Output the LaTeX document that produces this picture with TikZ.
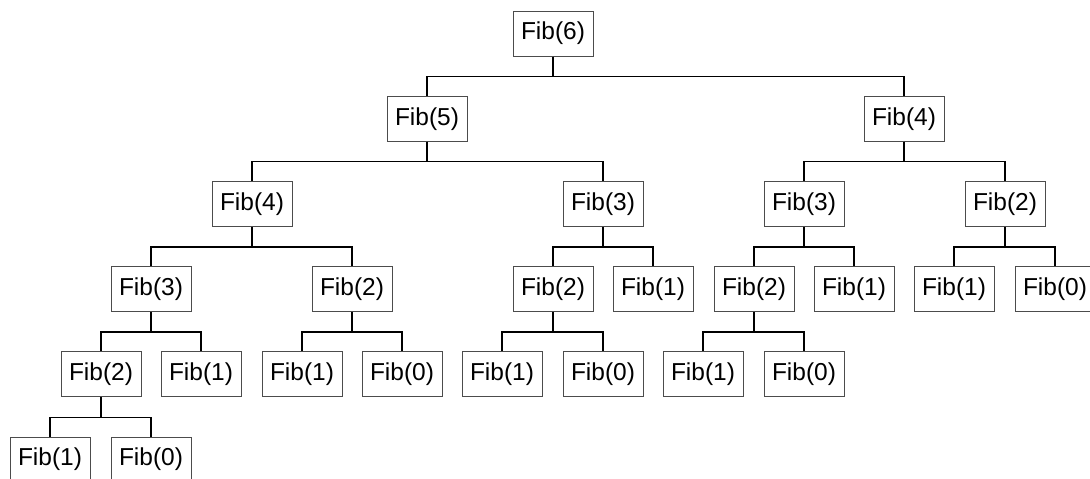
\documentclass[tikz,border=0pt]{standalone}
\usepackage{fontspec}
\setmainfont{Liberation Sans}
\begin{document}
\begin{tikzpicture}[x=1pt,y=-1pt,
  fib/.style={draw=black!70, line width=1pt, minimum width=80pt, minimum height=45pt, inner sep=0pt, font=\fontsize{24.5}{28}\selectfont},
  conn/.style={line width=1.5pt, black}]
\useasboundingbox (0,0) rectangle (1090,479);
% level 0
\node[fib] (n6) at (553,33.5) {Fib(6)};
% level 1
\node[fib] (n5) at (427,118.7) {Fib(5)};
\node[fib] (n4) at (904,118.7) {Fib(4)};
% level 2
\node[fib] (a) at (252,204) {Fib(4)};
\node[fib] (b) at (603,204) {Fib(3)};
\node[fib] (c) at (804,204) {Fib(3)};
\node[fib] (d) at (1005,204) {Fib(2)};
% level 3
\node[fib] (e) at (151,289.1) {Fib(3)};
\node[fib] (f) at (352,289.1) {Fib(2)};
\node[fib] (g) at (553,289.1) {Fib(2)};
\node[fib] (h) at (653,289.1) {Fib(1)};
\node[fib] (i) at (754,289.1) {Fib(2)};
\node[fib] (j) at (854,289.1) {Fib(1)};
\node[fib] (k) at (954,289.1) {Fib(1)};
\node[fib] (l) at (1055,289.1) {Fib(0)};
% level 4
\node[fib] (m) at (101,374.3) {Fib(2)};
\node[fib] (n) at (201,374.3) {Fib(1)};
\node[fib] (o) at (302,374.3) {Fib(1)};
\node[fib] (p) at (402,374.3) {Fib(0)};
\node[fib] (q) at (502,374.3) {Fib(1)};
\node[fib] (r) at (603,374.3) {Fib(0)};
\node[fib] (s) at (703,374.3) {Fib(1)};
\node[fib] (t) at (804,374.3) {Fib(0)};
% level 5
\node[fib] (u) at (50,459.5) {Fib(1)};
\node[fib] (v) at (151,459.5) {Fib(0)};
% connectors
\foreach \p/\c in {n6/n5,n6/n4,n5/a,n5/b,n4/c,n4/d,a/e,a/f,b/g,b/h,c/i,c/j,d/k,d/l,e/m,e/n,f/o,f/p,g/q,g/r,i/s,i/t,m/u,m/v}
  \draw[conn] (\p.south) -- ++(0,20) -| (\c.north);
\end{tikzpicture}
\end{document}
